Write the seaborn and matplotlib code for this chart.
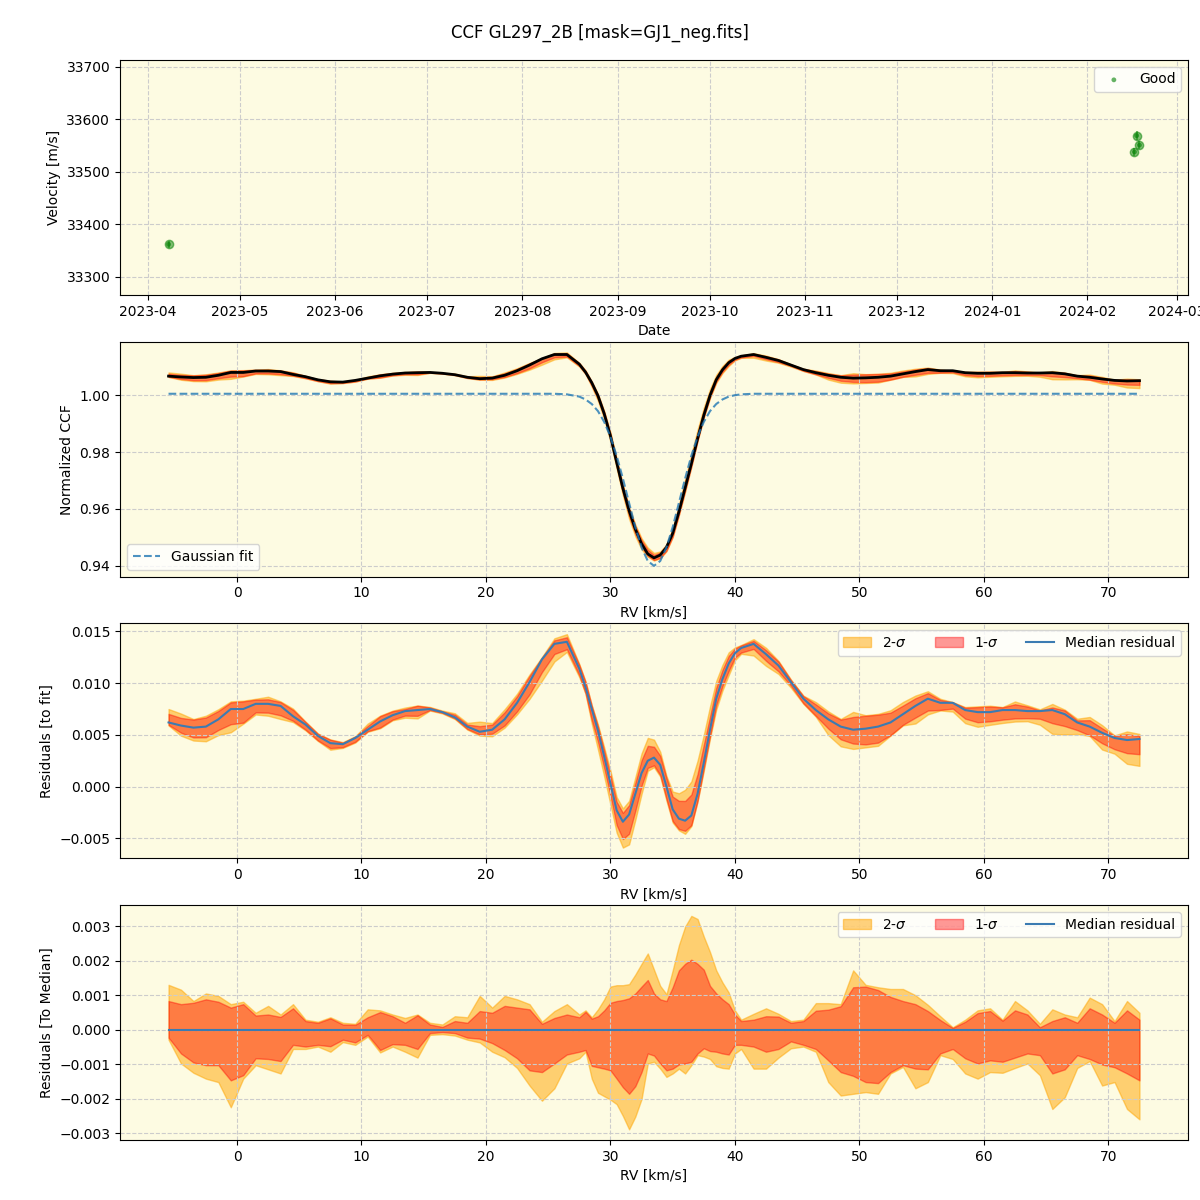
import numpy as np
import pandas as pd
import matplotlib
matplotlib.use('Agg')
import matplotlib.pyplot as plt
import matplotlib.dates as mdates
import seaborn as sns

# DATOS - velocidades
dates = pd.to_datetime(['2023-04-07 19:00', '2024-02-16 07:00',
                        '2024-02-17 00:00', '2024-02-17 22:00'])
vel = [33362, 33538, 33569, 33551]
vel_err = [6, 8, 8, 8]

# DATOS - eje RV (paso fino en el centro de la linea)
rv = np.concatenate([np.arange(-5.5, 28.0, 1.0),
                     np.arange(28.0, 40.01, 0.5),
                     np.arange(40.5, 73.0, 1.0)])

# ajuste gaussiano
gauss_fit = ([1.0005] * 32 + [1.0003, 0.9995] +
             [0.9985, 0.9969, 0.9944, 0.9906, 0.9854, 0.9787, 0.9707, 0.9621, 0.9536,
              0.9465, 0.9417, 0.9400, 0.9417, 0.9465, 0.9536, 0.9621, 0.9707, 0.9787,
              0.9854, 0.9906, 0.9944, 0.9969, 0.9985, 0.9995, 1.0000] +
             [1.0003] + [1.0005] * 32)

# residuo mediano respecto al ajuste (x1e-3)
med_resid = [6.2, 5.9, 5.7, 5.8, 6.5, 7.5, 7.5, 8.0, 8.0, 7.8, 6.8, 6.0, 4.9, 4.2, 4.1, 4.7,
             5.5, 6.3, 6.9, 7.3, 7.4, 7.5, 7.2, 6.7,
             5.8, 5.3, 5.5, 6.5, 8.1, 10.1, 12.3, 13.8, 14.0, 11.4,
             9.6, 7.5, 5.4, 2.9, 0.3, -2.3, -3.4, -2.7, -0.7, 1.3, 2.5, 2.8, 2.1, 0.0,
             -2.2, -3.1, -3.3, -2.8, -0.7, 2.3, 5.5, 8.5, 10.4, 11.9, 12.9,
             13.4, 13.8, 12.8, 11.7, 10.1, 8.5, 7.4, 6.5, 5.8, 5.5, 5.6, 5.8, 6.2, 7.0,
             7.8, 8.5, 8.1, 8.1, 7.4, 7.2, 7.2, 7.4, 7.4, 7.3, 7.3, 7.4, 7.0, 6.2, 5.8,
             5.2, 4.7, 4.5, 4.6]

# bandas respecto a la mediana (x1e-3)
up_2s = [1.30, 1.16, 0.83, 1.05, 0.98, 0.74, 0.81, 0.49, 0.69, 0.44, 0.74, 0.29, 0.23, 0.36,
         0.20, 0.17, 0.59, 0.56, 0.44, 0.34, 0.44, 0.20, 0.15, 0.39,
         0.36, 0.98, 0.64, 0.98, 0.88, 0.74, 0.23, 0.54, 0.74, 0.44,
         0.56, 0.36, 0.59, 0.88, 1.25, 1.29, 1.29, 1.32, 1.60, 1.91, 2.21, 1.74, 1.27,
         1.03, 1.72, 2.45, 2.99, 3.30, 3.21, 2.70, 2.25, 1.72, 1.37, 1.08, 0.56,
         0.29, 0.46, 0.62, 0.46, 0.25, 0.29, 0.77, 0.77, 0.74, 1.72, 1.30, 1.23, 1.18,
         1.18, 1.00, 0.72, 0.39, 0.07, 0.29, 0.56, 0.62, 0.29, 0.83, 0.56, 0.17, 0.59,
         0.44, 0.36, 0.93, 0.74, 0.25, 0.83, 0.49]
up_1s = [0.83, 0.74, 0.78, 0.88, 0.81, 0.64, 0.74, 0.41, 0.44, 0.37, 0.62, 0.25, 0.20, 0.33,
         0.15, 0.14, 0.36, 0.51, 0.39, 0.20, 0.42, 0.15, 0.08, 0.25,
         0.20, 0.54, 0.49, 0.69, 0.64, 0.59, 0.17, 0.34, 0.44, 0.36,
         0.52, 0.32, 0.39, 0.56, 0.78, 0.83, 0.86, 0.91, 1.05, 1.25, 1.44, 1.05, 0.88,
         0.83, 1.23, 1.72, 1.91, 2.03, 1.91, 1.74, 1.27, 1.05, 0.88, 0.74, 0.44,
         0.25, 0.29, 0.39, 0.38, 0.20, 0.25, 0.55, 0.58, 0.68, 1.23, 1.25, 1.15, 0.95,
         0.83, 0.74, 0.54, 0.28, 0.05, 0.23, 0.48, 0.54, 0.26, 0.56, 0.44, 0.07, 0.25,
         0.36, 0.20, 0.62, 0.44, 0.20, 0.56, 0.29]
lo_1s = [-0.23, -0.69, -0.95, -1.03, -1.03, -1.47, -1.32, -0.83, -0.85, -0.91, -0.44, -0.49,
         -0.44, -0.48, -0.29, -0.37, -0.15, -0.59, -0.42, -0.44, -0.56, -0.10, -0.07, -0.10,
         -0.23, -0.26, -0.39, -0.59, -0.83, -1.18, -1.23, -0.98, -0.72, -0.64,
         -0.59, -1.05, -1.09, -1.13, -1.18, -1.42, -1.67, -1.86, -1.64, -1.23, -0.69, -0.75,
         -0.98, -1.18, -1.13, -1.01, -0.98, -0.93, -0.69, -0.54, -0.62, -0.64, -0.69, -0.72,
         -0.44,
         -0.44, -0.49, -0.64, -0.56, -0.34, -0.44, -0.56, -0.89, -1.23, -1.34, -1.52, -1.55,
         -1.23, -1.03, -1.13, -1.15, -0.69, -0.56, -0.83, -0.98, -0.89, -0.93, -0.81, -0.69,
         -0.74, -1.27, -1.15, -0.74, -0.85, -1.01, -1.09, -1.27, -1.47]
lo_2s = [-0.29, -0.98, -1.25, -1.42, -1.52, -2.25, -1.42, -1.03, -1.15, -1.27, -0.56, -0.56,
         -0.49, -0.64, -0.36, -0.44, -0.20, -0.66, -0.49, -0.64, -0.81, -0.15, -0.13, -0.17,
         -0.29, -0.37, -0.64, -0.80, -1.11, -1.62, -2.06, -1.70, -0.98, -0.83,
         -0.64, -1.42, -1.83, -1.93, -2.03, -2.16, -2.50, -2.89, -2.52, -2.01, -0.98, -0.93,
         -1.13, -1.37, -1.27, -1.13, -1.27, -1.03, -0.74, -0.78, -0.85, -1.06, -1.11, -1.13,
         -0.69,
         -0.56, -1.13, -1.13, -0.81, -0.54, -0.49, -0.64, -1.52, -1.91, -1.86, -1.81, -1.86,
         -1.27, -1.08, -1.70, -1.52, -0.74, -0.85, -1.27, -1.42, -1.23, -1.25, -1.11, -0.98,
         -1.32, -2.30, -1.96, -1.11, -0.91, -1.62, -1.52, -2.30, -2.60]

# PREPARAR SERIES
gauss = np.array(gauss_fit)
med = np.array(med_resid) * 1e-3
u2, u1 = np.array(up_2s) * 1e-3, np.array(up_1s) * 1e-3
l1, l2 = np.array(lo_1s) * 1e-3, np.array(lo_2s) * 1e-3
ccf = gauss + med

bg = '#fdfbe2'
c2 = 'orange'
c1 = 'red'
cmed = '#3b7bb2'

fig, axes = plt.subplots(4, 1, figsize=(12, 12))
fig.subplots_adjust(left=0.1, right=0.99, top=0.95, bottom=0.05, hspace=0.2)
for ax in axes:
    ax.set_facecolor(bg)
    ax.grid(True, ls='--', color='#cccccc', lw=0.8)

# PANEL 1 - velocidades
ax = axes[0]
ax.errorbar(dates, vel, yerr=vel_err, fmt='o', color='green', alpha=0.5, ms=6)
sns.scatterplot(x=dates, y=vel, ax=ax, color='green', s=12, alpha=0.6,
                edgecolor='none', label='Good')
ax.set_ylim(33266, 33713)
ax.xaxis.set_major_locator(mdates.MonthLocator())
ax.xaxis.set_major_formatter(mdates.DateFormatter('%Y-%m'))
ax.set_xlabel('Date')
ax.set_ylabel('Velocity [m/s]')
ax.legend(loc='upper right')

# PANEL 2 - CCF normalizada
ax = axes[1]
ax.fill_between(rv, ccf + l2, ccf + u2, color=c2, alpha=0.5)
ax.fill_between(rv, ccf + l1, ccf + u1, color=c1, alpha=0.4)
sns.lineplot(x=rv, y=ccf, ax=ax, color='k', lw=2)
sns.lineplot(x=rv, y=gauss, ax=ax, color='C0', ls='--', alpha=0.8, label='Gaussian fit')
ax.set_xlabel('RV [km/s]')
ax.set_ylabel('Normalized CCF')
ax.legend(loc='lower left')

# PANEL 3 - residuos respecto al ajuste
ax = axes[2]
ax.fill_between(rv, med + l2, med + u2, color=c2, alpha=0.5, label='2-$\\sigma$')
ax.fill_between(rv, med + l1, med + u1, color=c1, alpha=0.4, label='1-$\\sigma$')
sns.lineplot(x=rv, y=med, ax=ax, color=cmed, lw=1.5, label='Median residual')
ax.set_xlabel('RV [km/s]')
ax.set_ylabel('Residuals [to fit]')
ax.legend(loc='upper right', ncol=3)

# PANEL 4 - residuos respecto a la mediana
ax = axes[3]
ax.fill_between(rv, l2, u2, color=c2, alpha=0.5, label='2-$\\sigma$')
ax.fill_between(rv, l1, u1, color=c1, alpha=0.4, label='1-$\\sigma$')
sns.lineplot(x=rv, y=med - med, ax=ax, color=cmed, lw=1.5, label='Median residual')
ax.set_xlabel('RV [km/s]')
ax.set_ylabel('Residuals [To Median]')
ax.legend(loc='upper right', ncol=3)

fig.suptitle('CCF GL297_2B [mask=GJ1_neg.fits]', fontsize=12, y=0.98)
plt.savefig('out.png', dpi=100)
plt.close()
